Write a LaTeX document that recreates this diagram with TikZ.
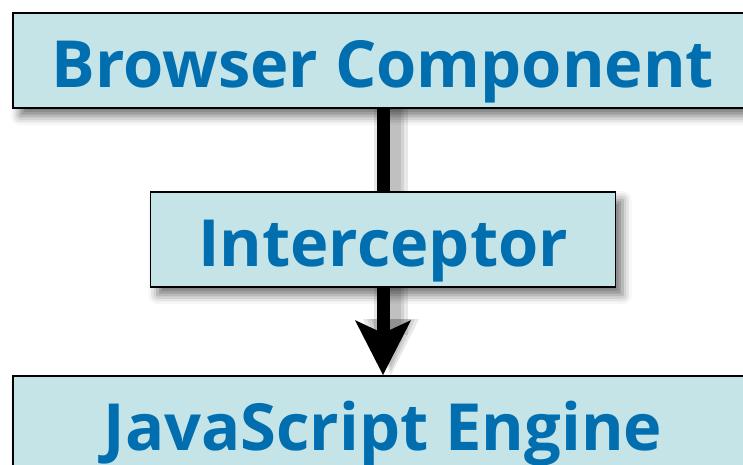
\documentclass[tikz,border=0pt]{standalone}
\usepackage{fontspec}
\newfontfamily\boxfont{Open Sans}
\usetikzlibrary{positioning, arrows.meta, shadows.blur}
\definecolor{boxfill}{RGB}{196,228,231}
\definecolor{boxtext}{RGB}{0,110,175}

\begin{document}
\begin{tikzpicture}[x=1pt, y=-1pt,
      layerbox/.style={draw, line width=1.6pt, fill=boxfill, text=boxtext,
        minimum height=95pt, inner sep=0pt,
        font=\boxfont\bfseries\fontsize{65}{65}\selectfont,
        text height=53pt, text depth=0pt,
        blur shadow={shadow xshift=7pt, shadow yshift=-8pt, shadow blur radius=9pt, shadow opacity=55}},
      link/.style={line width=13pt},
      linkshadow/.style={black, opacity=0.09}
    ]
    \useasboundingbox (0,0) rectangle (743,464);
    \clip (0,0) rectangle (743,464);
    \node[layerbox, minimum width=740pt] (browser) at (383,60.5) {Browser Component};
    \node[layerbox, minimum width=465pt] (intercept) at (383,239.5) {Interceptor};
    \node[layerbox, minimum width=740pt] (engine) at (383,423.5) {JavaScript Engine};
    % soft shadows under the links
    \foreach \w in {34,26,19} {
      \draw[linkshadow, line width=\w pt] ([xshift=8pt]browser.south) -- ([xshift=8pt]intercept.north);
      \draw[linkshadow, line width=\w pt] ([xshift=8pt]intercept.south) -- ([xshift=8pt, yshift=40pt]engine.north);
    }
    \foreach \s in {0,4,8} {
      \fill[linkshadow] ([xshift=-20pt+\s pt, yshift=56pt]engine.north) -- ([xshift=36pt-\s pt, yshift=56pt]engine.north)
        -- ([xshift=8pt, yshift=\s pt]engine.north) -- cycle;
    }
    \draw[link] (browser) -- (intercept);
    \draw[link, -{Stealth[length=54pt, width=54pt, inset=12pt]}] (intercept) -- (engine);
  \end{tikzpicture}
\end{document}
